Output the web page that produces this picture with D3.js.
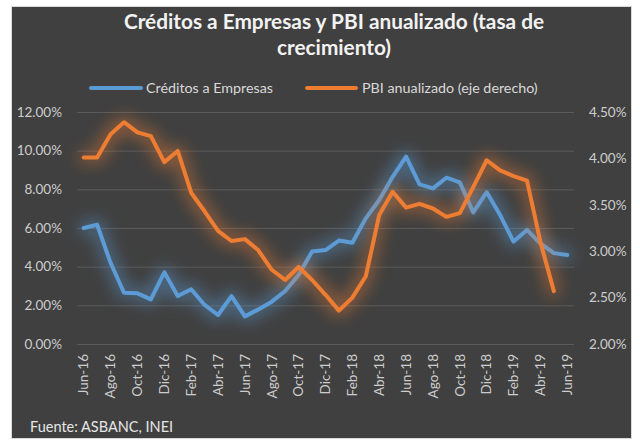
<!DOCTYPE html>
<html><head><meta charset="utf-8">
<script src="https://cdn.jsdelivr.net/npm/d3@7/dist/d3.min.js"></script>
<style>
body{margin:0;background:#fff;}
svg{display:block;font-family:Lato,"Open Sans",sans-serif;}
</style></head><body>
<svg id="c" width="640" height="448"></svg>
<script>
const months = ["Jun-16","Jul-16","Ago-16","Sep-16","Oct-16","Nov-16","Dic-16","Ene-17","Feb-17","Mar-17","Abr-17","May-17",
"Jun-17","Jul-17","Ago-17","Sep-17","Oct-17","Nov-17","Dic-17","Ene-18","Feb-18","Mar-18","Abr-18","May-18",
"Jun-18","Jul-18","Ago-18","Sep-18","Oct-18","Nov-18","Dic-18","Ene-19","Feb-19","Mar-19","Abr-19","May-19","Jun-19"];
const creditos = [6.0,6.17,4.2,2.65,2.62,2.31,3.71,2.48,2.83,2.02,1.5,2.48,
1.43,1.79,2.19,2.74,3.57,4.78,4.86,5.35,5.24,6.5,7.45,8.65,
9.69,8.26,8.05,8.6,8.36,6.81,7.85,6.67,5.3,5.9,5.2,4.7,4.6];
const pbi = [4.01,4.01,4.26,4.39,4.28,4.24,3.96,4.08,3.63,3.43,3.22,3.11,
3.13,3.01,2.80,2.69,2.83,2.69,2.53,2.36,2.50,2.73,3.39,3.64,
3.47,3.51,3.46,3.37,3.41,3.69,3.98,3.87,3.81,3.76,3.1,2.57,null];
const xTickLabels = months.filter((d,i)=>i%2===0);
const leftTicks = [0,2,4,6,8,10,12];
const rightTicks = [2.0,2.5,3.0,3.5,4.0,4.5];
const seriesNames = ["Créditos a Empresas","PBI anualizado (eje derecho)"];
const colors = ["#5B9BD5","#ED7D31"];

const svg = d3.select("#c");
// panel
svg.append("rect").attr("x",11.5).attr("y",6.5).attr("width",620).attr("height",432)
  .attr("fill","#404040").attr("stroke","#d9d9d9").attr("stroke-width",1);

const defs = svg.append("defs");
const f = defs.append("filter").attr("id","glow").attr("x","-20%").attr("y","-20%").attr("width","140%").attr("height","140%");
f.append("feMorphology").attr("in","SourceGraphic").attr("operator","dilate").attr("radius",3).attr("result","d");
f.append("feGaussianBlur").attr("in","d").attr("stdDeviation",8).attr("result","b");
f.append("feComponentTransfer").attr("in","b").attr("result","b2")
  .append("feFuncA").attr("type","linear").attr("slope",0.5);
const m = f.append("feMerge");
m.append("feMergeNode").attr("in","b2");
m.append("feMergeNode").attr("in","SourceGraphic");

const L=77, R=574, T=112, B=344;
const x = d3.scaleBand().domain(months).range([L,R]);
const yL = d3.scaleLinear().domain([0,12]).range([B,T]);
const yR = d3.scaleLinear().domain([2,4.5]).range([B,T]);

// gridlines
svg.append("g").selectAll("line").data(leftTicks).join("line")
  .attr("x1",L).attr("x2",R).attr("y1",d=>yL(d)+0.5).attr("y2",d=>yL(d)+0.5)
  .attr("stroke","#5a5a5a").attr("stroke-width",1);

// axes
const axL = d3.axisLeft(yL).tickValues(leftTicks).tickFormat(d=>d.toFixed(2)+"%").tickSize(0).tickPadding(15);
const gL = svg.append("g").attr("transform",`translate(${L},0)`).call(axL);
const axR = d3.axisRight(yR).tickValues(rightTicks).tickFormat(d=>d.toFixed(2)+"%").tickSize(0).tickPadding(15);
const gR = svg.append("g").attr("transform",`translate(${R},0)`).call(axR);
const axX = d3.axisBottom(x).tickValues(xTickLabels).tickSize(0).tickPadding(0);
const gX = svg.append("g").attr("transform",`translate(0,${B})`).call(axX);
gX.selectAll("text").attr("transform","rotate(-90)").attr("text-anchor","end")
  .attr("dx","-10").attr("dy","0.35em").attr("y",0).attr("x",0);
[gL,gR,gX].forEach(g=>{
  g.select(".domain").remove();
  g.selectAll("text").attr("fill","#cdcdcd").attr("font-size","13.5px").attr("font-family","Lato,'Open Sans',sans-serif");
});

// lines
const lineL = d3.line().defined(d=>d!=null).x((d,i)=>x(months[i])+x.bandwidth()/2).y(d=>yL(d));
const lineR = d3.line().defined(d=>d!=null).x((d,i)=>x(months[i])+x.bandwidth()/2).y(d=>yR(d));
svg.append("path").datum(creditos).attr("d",lineL).attr("fill","none").attr("stroke",colors[0])
  .attr("stroke-width",4).attr("stroke-linejoin","round").attr("stroke-linecap","round").attr("filter","url(#glow)");
svg.append("path").datum(pbi).attr("d",lineR).attr("fill","none").attr("stroke",colors[1])
  .attr("stroke-width",4).attr("stroke-linejoin","round").attr("stroke-linecap","round").attr("filter","url(#glow)");

// title
const title = svg.append("text").attr("text-anchor","middle").attr("fill","#f2f2f2")
  .attr("font-size","20.8px").attr("font-weight","bold");
title.append("tspan").attr("x",334).attr("y",29).text("Créditos a Empresas y PBI anualizado (tasa de");
title.append("tspan").attr("x",334).attr("y",55).text("crecimiento)");

// legend
const leg = [{x1:91,x2:141,tx:146},{x1:307,x2:356,tx:362}];
leg.forEach((l,i)=>{
  svg.append("line").attr("x1",l.x1).attr("x2",l.x2).attr("y1",88).attr("y2",88)
    .attr("stroke",colors[i]).attr("stroke-width",4).attr("stroke-linecap","round");
  svg.append("text").attr("x",l.tx).attr("y",93).attr("fill","#d9d9d9").attr("font-size","14.3px").text(seriesNames[i]);
});

// source
svg.append("text").attr("x",30).attr("y",432).attr("fill","#e6e6e6").attr("font-size","14.5px").text("Fuente: ASBANC, INEI");
</script></body></html>
